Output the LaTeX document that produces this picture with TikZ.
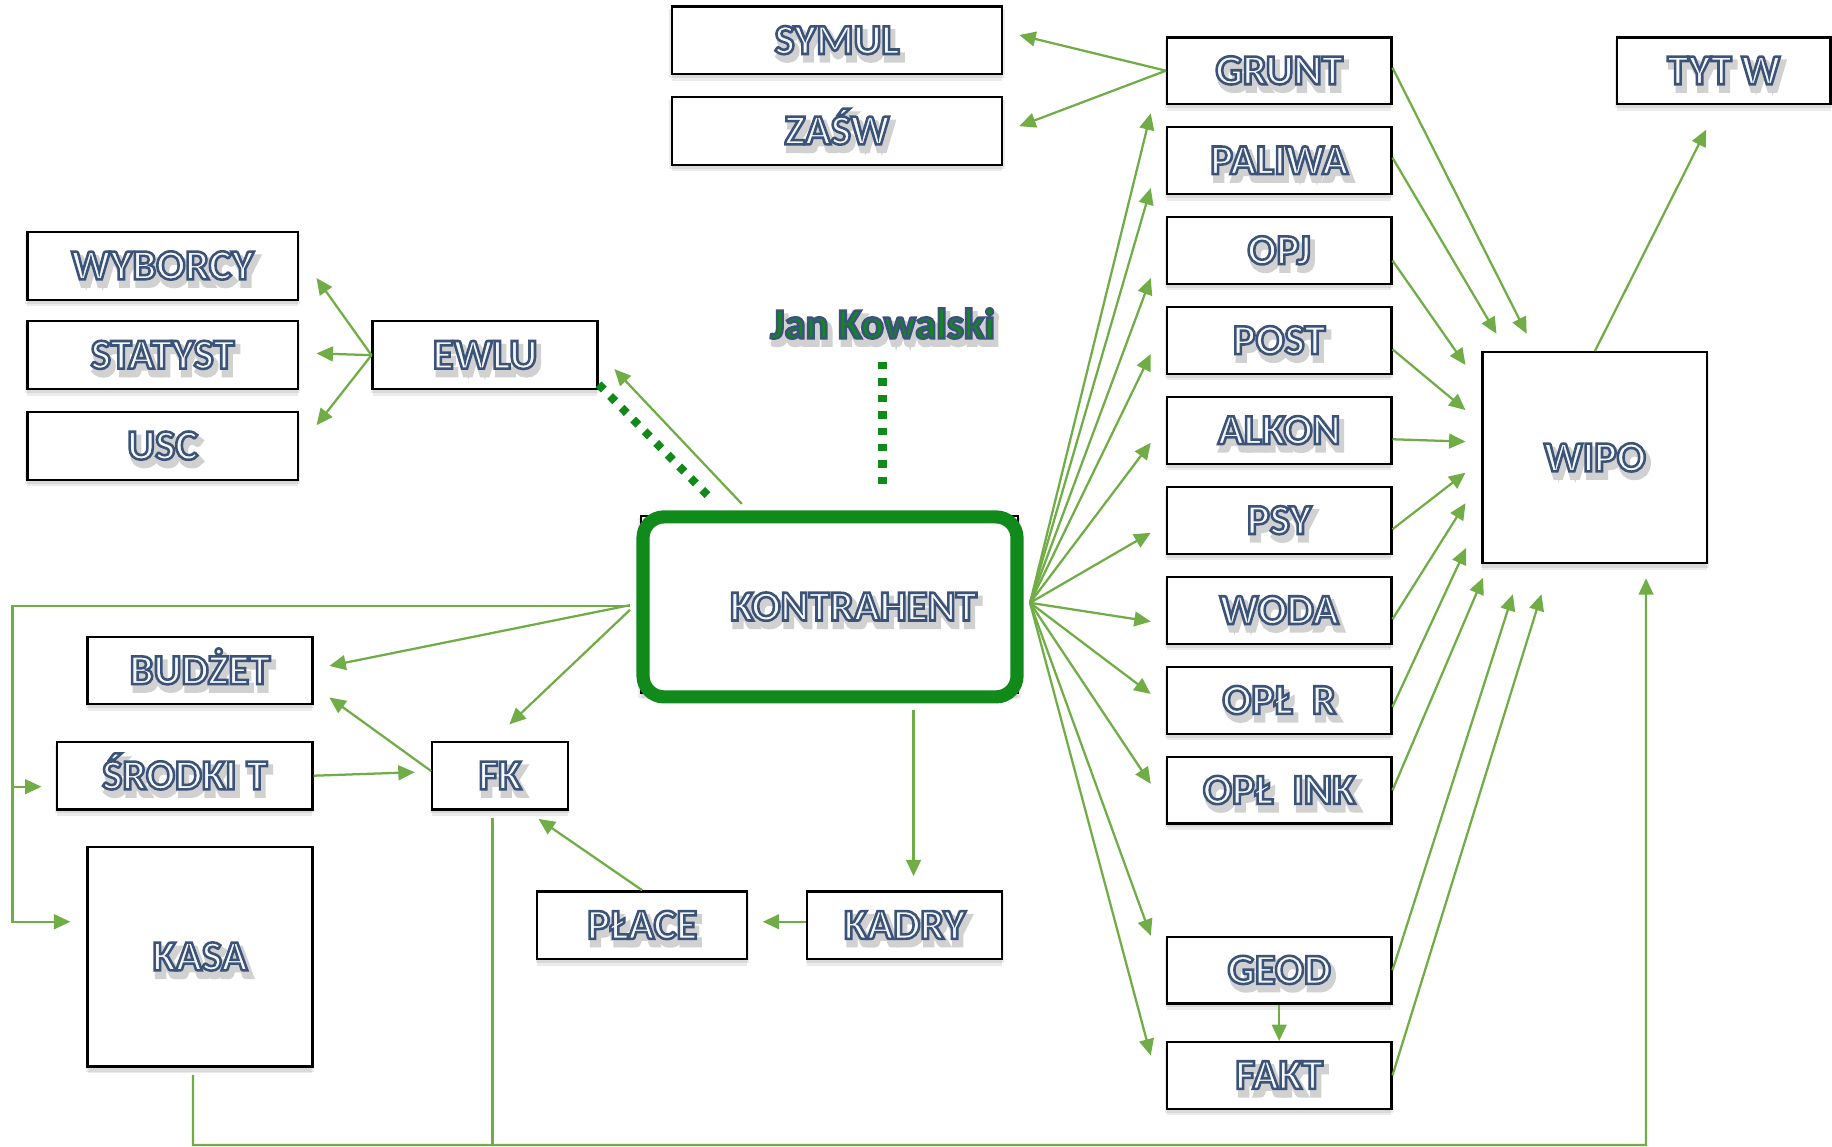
\documentclass[tikz,border=0pt]{standalone}
\usepackage{fontspec}
\setmainfont{Carlito}
\usetikzlibrary{arrows.meta,calc,shadows}
\definecolor{lgreen}{HTML}{70AD47}
\definecolor{dkgreen}{RGB}{16,138,26}
\definecolor{txtline}{HTML}{3B5378}
\definecolor{txtfill}{HTML}{F6F7FA}
% outlined text with a soft grey shadow: fill colour #1, dark blue outline (PDF text render mode 2)
\newcommand\lblt[2][txtfill]{\rlap{\kern0.8pt\raisebox{-1.4pt}{\color{black!20}\special{pdf:literal direct 0.82 0.82 0.82 RG 2 Tr 1.4 w}#2}}{\color{#1}\special{pdf:literal direct 0.231 0.325 0.471 RG 2 Tr 0.62 w}#2}}
\tikzset{
  boxshadow/.style={
    drop shadow={shadow xshift=0pt, shadow yshift=-1.6pt, opacity=0.08, fill=black},
    drop shadow={shadow xshift=0pt, shadow yshift=-0.8pt, shadow scale=1.015, opacity=0.08, fill=black}},
  box/.style={draw=black, line width=0.55pt, fill=white, inner sep=0pt, boxshadow,
    text height=6.6pt, text depth=0pt},
  bx/.style 2 args={box, minimum width=#1*0.01cm, minimum height=#2*0.01cm},
  link/.style={draw=lgreen, line width=0.55pt, -{Triangle[length=4pt,width=3.6pt]}},
  plainlink/.style={draw=lgreen, line width=0.55pt},
  dotlink/.style={draw=dkgreen, line width=2pt, dash pattern=on 1.8pt off 2.2pt},
  kontrbox/.style={draw=dkgreen, line width=3.2pt, rounded corners=0.18cm, fill=white,
    minimum width=3.2cm, minimum height=1.54cm, inner sep=0pt, text height=6.6pt, text depth=0pt},
}
\begin{document}
\begin{tikzpicture}[x=0.01cm, y=-0.01cm, font=\fontsize{10.4}{12}\selectfont\bfseries]
\useasboundingbox (0,0) rectangle (1568.2,981.7);

% top middle
\node[bx={283}{58}] (symul) at (716.5,34.6) {\lblt{SYMUL}};
\node[bx={283}{58}] (zasw) at (716.5,112) {\lblt{ZAŚW}};

% right column
\node[bx={192}{57}] (grunt) at (1095,60.5) {\lblt{GRUNT}};
\node[bx={192}{57}] (paliwa) at (1095,137.5) {\lblt{PALIWA}};
\node[bx={192}{57}] (opj) at (1095,214.5) {\lblt{OPJ}};
\node[bx={192}{57}] (post) at (1095,291.5) {\lblt{POST}};
\node[bx={192}{57}] (alkon) at (1095,368.5) {\lblt{ALKON}};
\node[bx={192}{57}] (psy) at (1095,445.5) {\lblt{PSY}};
\node[bx={192}{57}] (woda) at (1095,522.5) {\lblt{WODA}};
\node[bx={192}{57}] (oplr) at (1095,599.5) {\lblt{OPŁ\ \ R}};
\node[bx={192}{57}] (oplink) at (1095,676.5) {\lblt{OPŁ\ \ INK}};
\node[bx={192}{57}] (geod) at (1095,830.5) {\lblt{GEOD}};
\node[bx={192}{57}] (fakt) at (1095,920.5) {\lblt{FAKT}};

\node[bx={183}{57}] (tytw) at (1475.5,60.5) {\lblt{TYT W}};
\node[bx={192.5}{180.5}] (wipo) at (1365.2,391.8) {\lblt{WIPO}};

% left
\node[bx={231.5}{58}] (wyborcy) at (139.2,227.5) {\lblt{WYBORCY}};
\node[bx={231.5}{58}] (statyst) at (139.2,304) {\lblt{STATYST}};
\node[bx={231.5}{58}] (usc) at (139.2,381.7) {\lblt{USC}};
\node[bx={192.5}{58}] (ewlu) at (415.2,304) {\lblt{EWLU}};

\node[bx={192.5}{57.5}] (budzet) at (171.2,574) {\lblt{BUDŻET}};
\node[bx={218.5}{58}] (srodki) at (158.2,664) {\lblt{ŚRODKI T}};
\node[bx={116}{58}] (fk) at (428,664) {\lblt{FK}};
\node[bx={192.5}{188}] (kasa) at (171.2,819) {\lblt{KASA}};
\node[bx={179.5}{58}] (place) at (549.7,792) {\lblt{PŁACE}};
\node[bx={167}{58}] (kadry) at (774.5,792) {\lblt{KADRY}};

% centre
\node[draw=black, line width=0.55pt, boxshadow, minimum width=3.225cm, minimum height=1.513cm, inner sep=0pt] (kback) at (710.2,517.4) {};
\node[kontrbox] (kontr) at (710.5,519.5) {\hspace*{11.4pt}\lblt{KONTRAHENT}};
\node[inner sep=0pt, text height=6.6pt, text depth=0pt] (jan) at (755.5,278) {\lblt[dkgreen]{Jan Kowalski}};

% dotted links
\draw[dotlink] ($(jan.south)+(0,19.4)$) -- ($(kontr.north)+(45,-19.5)$);
\draw[dotlink] ($(ewlu.south east)+(0,-5)$) -- ($(kontr.north)+(-101.5,-9.5)$);

% GRUNT to SYMUL / ZASW
\draw[link] (grunt.west) -- ($(symul.east)+(13.5,-4.6)$);
\draw[link] (grunt.west) -- ($(zasw.east)+(13.5,-4)$);

% EWLU fan
\draw[link] (ewlu.west) -- ($(wyborcy.east)+(15,10.5)$);
\draw[link] (ewlu.west) -- ($(statyst.east)+(15,-1.5)$);
\draw[link] (ewlu.west) -- ($(usc.east)+(15,-17.7)$);
\draw[link] ($(kontr.north)+(-75.5,-5.5)$) -- ($(ewlu.south east)+(13.5,-18)$);

% KONTRAHENT fan to the right
\coordinate (kR) at ($(kontr.east)+(5.5,-3.5)$);
\draw[link] (kR) -- ($(grunt.west)+(-13,36.5)$);
\draw[link] (kR) -- ($(paliwa.west)+(-13,23.5)$);
\draw[link] (kR) -- ($(opj.west)+(-13,23.5)$);
\draw[link] (kR) -- ($(post.west)+(-13,11.5)$);
\draw[link] (kR) -- ($(alkon.west)+(-13,10.5)$);
\draw[link] (kR) -- ($(psy.west)+(-13,10.5)$);
\draw[link] (kR) -- ($(woda.west)+(-13,9.5)$);
\draw[link] (kR) -- ($(oplr.west)+(-13,-5.5)$);
\draw[link] (kR) -- ($(oplink.west)+(-13,-5.5)$);
\draw[link] (kR) -- ($(geod.west)+(-13,-29.5)$);
\draw[link] (kR) -- ($(fakt.west)+(-13,-17)$);

% right column to WIPO
\draw[link] ($(grunt.east)+(0,-2.5)$) -- ($(wipo.north)+(-58.4,-14.9)$);
\draw[link] ($(paliwa.east)+(0,-2.5)$) -- ($(wipo.north)+(-84.2,-14.9)$);
\draw[link] ($(opj.east)+(0,8.5)$) -- ($(wipo.west)+(-13.5,-79.4)$);
\draw[link] ($(post.east)+(0,7.5)$) -- ($(wipo.west)+(-13.5,-40.8)$);
\draw[link] ($(alkon.east)+(0,7.5)$) -- ($(wipo.west)+(-13.5,-13.8)$);
\draw[link] ($(psy.east)+(0,7.5)$) -- ($(wipo.west)+(-13.5,12.8)$);
\draw[link] ($(woda.east)+(0,7.5)$) -- ($(wipo.west)+(-13.5,38.9)$);
\draw[link] ($(oplr.east)+(0,5.5)$) -- ($(wipo.west)+(-13,77.2)$);
\draw[link] (oplink.east) -- ($(wipo.south)+(-95.7,11.5)$);
\draw[link] (geod.east) -- ($(wipo.south)+(-70.2,25.6)$);
\draw[link] (fakt.east) -- ($(wipo.south)+(-45.7,25.6)$);
\draw[link] (geod.south) -- (fakt.north);
\draw[link] (wipo.north) -- ($(tytw.south)+(-15,21)$);

% lower middle
\draw[link] ($(kontr.south)+(71.5,5.5)$) -- ($(kadry.north)+(7.5,-12)$);
\draw[link] ($(kadry.west)+(0,-3)$) -- ($(place.east)+(12.5,-3)$);
\draw[link] (place.north) -- ($(fk.south)+(33,7)$);
\draw[link] (srodki.east) -- ($(fk.west)+(-14,-3)$);
\draw[link] ($(fk.west)+(0,-4)$) -- ($(budzet.east)+(13.5,23)$);
\draw[link] ($(kontr.west)+(-5.5,-1.5)$) -- ($(budzet.east)+(13.5,-4)$);
\draw[link] ($(kontr.west)+(-5.5,2.5)$) -- ($(fk.north)+(8,-14)$);

% left loop
\draw[link] ($(kontr.west)+(-5.5,-1)$) -| (10.8,789) -- ($(kasa.west)+(-13.7,-30)$);
\draw[link] (10.8,673.4) -- ($(srodki.west)+(-12.5,9.4)$);

% bottom loop
\draw[link] ($(kasa.south)+(-6,6)$) |- (1409,980) -- ($(wipo.south)+(43.8,12)$);
\draw[plainlink] ($(fk.south)+(-6.5,6.5)$) -- (421.5,980);
\end{tikzpicture}
\end{document}
